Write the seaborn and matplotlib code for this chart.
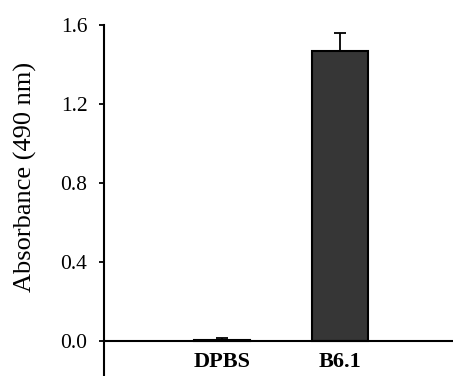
import numpy as np
import matplotlib
matplotlib.use("Agg")
import matplotlib.pyplot as plt
import seaborn as sns

# datos
groups = ["DPBS", "B6.1"]
means = [0.005, 1.468]
errors = [0.008, 0.09]
y_ticks = [0.0, 0.4, 0.8, 1.2, 1.6]

sns.set_style("white")
plt.rcParams['font.family'] = ['Liberation Serif', 'DejaVu Serif']
plt.rcParams['text.color'] = 'black'
plt.rcParams['xtick.color'] = 'black'
plt.rcParams['ytick.color'] = 'black'
plt.rcParams['axes.labelcolor'] = 'black'

fig = plt.figure(figsize=(4.53, 3.76), dpi=100)
ax = fig.add_axes([104 / 453, 0.0, 1 - 104 / 453, 351 / 376])

sns.barplot(x=groups, y=means, ax=ax, width=0.47, color="#363636",
            edgecolor="black", linewidth=1.5, errorbar=None)

# barras de error solo hacia arriba
ax.errorbar(np.arange(len(groups)), means,
            yerr=[np.zeros(len(errors)), errors],
            fmt="none", ecolor="black", elinewidth=1.3, capsize=4, capthick=1.3)

ax.set_xlim(-1, 1.96)
ax.set_ylim(-0.18, 1.6)
ax.set_yticks(y_ticks)
ax.set_yticklabels([f"{t:.1f}" for t in y_ticks], fontsize=15.5)

ax.spines["top"].set_visible(False)
ax.spines["right"].set_visible(False)
ax.spines["bottom"].set_position(("data", 0))
for s in ["left", "bottom"]:
    ax.spines[s].set_linewidth(1.5)
    ax.spines[s].set_color("black")

ax.tick_params(axis="y", direction="out", length=3.5, width=1.3, left=True, pad=8.5)
ax.tick_params(axis="x", length=0, pad=8, labelsize=16)
for lab in ax.get_xticklabels():
    lab.set_fontweight("bold")

ax.set_ylabel("Absorbance (490 nm)", fontsize=19)
ax.yaxis.set_label_coords(-0.192, 0.567)
ax.set_xlabel("")

fig.savefig("out.png", dpi=100)
